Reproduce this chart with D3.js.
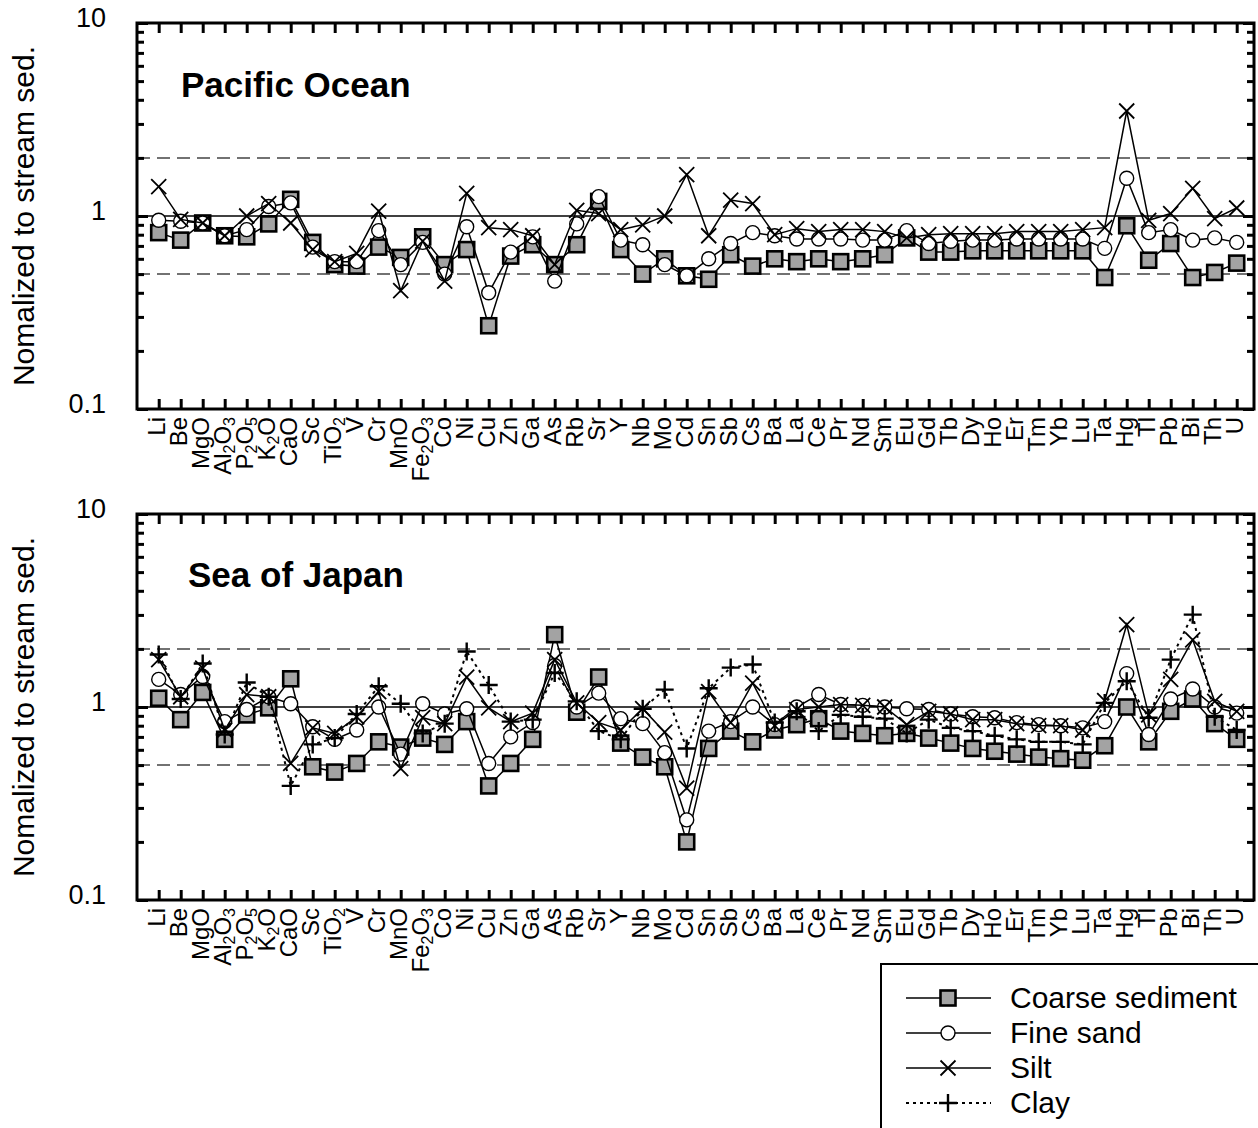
<!DOCTYPE html>
<html>
<head>
<meta charset="utf-8">
<script src="https://cdn.jsdelivr.net/npm/d3@7"></script>
<style>
body { margin: 0; background: #fff; }
svg { display: block; font-family: "Liberation Sans", Arial, sans-serif; }
</style>
</head>
<body>
<svg></svg>
<script>
var width = 1258;
var height = 1128;

var elements = ['Li', 'Be', 'MgO', 'Al2O3', 'P2O5', 'K2O', 'CaO', 'Sc', 'TiO2', 'V', 'Cr', 'MnO', 'Fe2O3', 'Co', 'Ni', 'Cu', 'Zn', 'Ga', 'As', 'Rb', 'Sr', 'Y', 'Nb', 'Mo', 'Cd', 'Sn', 'Sb', 'Cs', 'Ba', 'La', 'Ce', 'Pr', 'Nd', 'Sm', 'Eu', 'Gd', 'Tb', 'Dy', 'Ho', 'Er', 'Tm', 'Yb', 'Lu', 'Ta', 'Hg', 'Tl', 'Pb', 'Bi', 'Th', 'U'];

var yTicks = [0.1, 1, 10];
var yTickLabels = ['0.1', '1', '10'];
var yMinorTicks = [0.2, 0.3, 0.4, 0.5, 0.6, 0.7, 0.8, 0.9, 2, 3, 4, 5, 6, 7, 8, 9];
var refLines = [0.5, 1, 2];

// Pacific Ocean
var coarsePO = [0.82, 0.75, 0.92, 0.79, 0.78, 0.91, 1.22, 0.73, 0.56, 0.55, 0.69, 0.61, 0.78, 0.56, 0.67, 0.27, 0.62, 0.71, 0.56, 0.71, 1.19, 0.67, 0.50, 0.60, 0.49, 0.47, 0.63, 0.55, 0.60, 0.58, 0.60, 0.58, 0.60, 0.63, 0.77, 0.65, 0.65, 0.66, 0.66, 0.66, 0.66, 0.66, 0.66, 0.48, 0.89, 0.59, 0.72, 0.48, 0.51, 0.57];
var finePO = [0.95, 0.94, 0.92, 0.79, 0.85, 1.12, 1.17, 0.69, 0.58, 0.58, 0.84, 0.56, 0.73, 0.50, 0.88, 0.40, 0.65, 0.78, 0.46, 0.91, 1.26, 0.75, 0.71, 0.56, 0.49, 0.60, 0.72, 0.82, 0.79, 0.76, 0.76, 0.76, 0.75, 0.75, 0.84, 0.72, 0.74, 0.75, 0.75, 0.76, 0.76, 0.76, 0.76, 0.68, 1.57, 0.82, 0.85, 0.75, 0.77, 0.73];
var siltPO = [1.42, 0.96, 0.92, 0.79, 1.0, 1.16, 0.92, 0.67, 0.58, 0.64, 1.06, 0.41, 0.74, 0.46, 1.31, 0.87, 0.85, 0.79, 0.56, 1.07, 1.03, 0.85, 0.90, 1.0, 1.64, 0.79, 1.21, 1.16, 0.80, 0.86, 0.83, 0.85, 0.85, 0.83, 0.77, 0.80, 0.81, 0.81, 0.81, 0.83, 0.83, 0.83, 0.85, 0.87, 3.50, 0.95, 1.03, 1.39, 0.97, 1.10];

// Sea of Japan
var coarseSJ = [1.11, 0.86, 1.19, 0.68, 0.91, 0.99, 1.40, 0.49, 0.46, 0.51, 0.66, 0.62, 0.69, 0.64, 0.84, 0.39, 0.51, 0.68, 2.37, 0.94, 1.43, 0.65, 0.55, 0.49, 0.20, 0.61, 0.75, 0.66, 0.76, 0.81, 0.87, 0.75, 0.73, 0.71, 0.73, 0.69, 0.65, 0.61, 0.59, 0.57, 0.55, 0.54, 0.53, 0.63, 1.0, 0.66, 0.95, 1.10, 0.82, 0.68];
var fineSJ = [1.39, 1.16, 1.44, 0.84, 0.97, 1.13, 1.04, 0.79, 0.68, 0.76, 1.0, 0.57, 1.04, 0.92, 0.98, 0.51, 0.70, 0.83, 1.64, 1.0, 1.18, 0.87, 0.82, 0.58, 0.26, 0.75, 0.84, 1.0, 0.81, 1.0, 1.16, 1.03, 1.02, 1.0, 0.98, 0.97, 0.92, 0.89, 0.88, 0.83, 0.81, 0.80, 0.78, 0.84, 1.49, 0.72, 1.10, 1.24, 1.0, 0.93];
var siltSJ = [1.76, 1.13, 1.59, 0.76, 1.16, 1.13, 0.51, 0.78, 0.73, 0.89, 1.20, 0.48, 0.88, 0.82, 1.43, 0.99, 0.84, 0.93, 1.76, 1.05, 0.83, 0.76, 0.98, 0.74, 0.38, 1.20, 0.83, 1.33, 0.80, 0.97, 1.0, 1.03, 1.02, 1.0, 0.81, 0.95, 0.92, 0.86, 0.86, 0.82, 0.80, 0.80, 0.76, 1.08, 2.67, 0.91, 1.39, 2.23, 1.07, 0.95];
var claySJ = [1.87, 1.10, 1.68, 0.72, 1.34, 1.13, 0.39, 0.64, 0.69, 0.92, 1.28, 1.04, 0.73, 0.82, 1.94, 1.30, 0.84, 0.86, 1.50, 1.07, 0.75, 0.68, 0.98, 1.23, 0.61, 1.25, 1.60, 1.66, 0.83, 0.95, 0.75, 0.91, 0.89, 0.87, 0.73, 0.86, 0.78, 0.75, 0.71, 0.68, 0.66, 0.66, 0.64, 1.05, 1.36, 0.88, 1.76, 3.01, 0.89, 0.76];

var seriesNames = ['Coarse sediment', 'Fine sand', 'Silt', 'Clay'];
var seriesKinds = ['square', 'circle', 'times', 'plus'];

var panels = [
	{ title: 'Pacific Ocean', top: 23, bottom: 409, titleX: 181, titleY: 97, series: [coarsePO, finePO, siltPO] },
	{ title: 'Sea of Japan', top: 514, bottom: 900, titleX: 188, titleY: 587, series: [coarseSJ, fineSJ, siltSJ, claySJ] }
];

var plotLeft = 137;
var plotRight = 1254;

var svg = d3.select('svg')
	.attr('width', width)
	.attr('height', height);

svg.append('rect')
	.attr('width', width)
	.attr('height', height)
	.attr('fill', '#fff');

var x = d3.scalePoint()
	.domain(elements)
	.range([158.7, 1236.7]);

function drawMarker(sel, kind) {
	if (kind === 'square') {
		sel.append('rect')
			.attr('x', -7.5).attr('y', -7.5)
			.attr('width', 15).attr('height', 15)
			.attr('fill', '#a3a3a3')
			.attr('stroke', '#000')
			.attr('stroke-width', 2.6);
	} else if (kind === 'circle') {
		sel.append('circle')
			.attr('r', 7)
			.attr('fill', '#fff')
			.attr('stroke', '#000')
			.attr('stroke-width', 1.4);
	} else if (kind === 'times') {
		sel.append('path')
			.attr('d', 'M-7.5,-7.5L7.5,7.5M-7.5,7.5L7.5,-7.5')
			.attr('stroke', '#000')
			.attr('stroke-width', 1.8)
			.attr('fill', 'none');
	} else {
		sel.append('path')
			.attr('d', 'M-9,0L9,0M0,-9L0,9')
			.attr('stroke', '#000')
			.attr('stroke-width', 2.4)
			.attr('fill', 'none');
	}
}

panels.forEach(function(p) {
	var y = d3.scaleLog()
		.domain([0.1, 10])
		.range([p.bottom, p.top]);

	var g = svg.append('g');

	// reference lines at 0.5, 1, 2
	g.selectAll('.ref')
		.data(refLines)
		.enter().append('line')
		.attr('x1', plotLeft).attr('x2', plotRight)
		.attr('y1', function(d) { return y(d); })
		.attr('y2', function(d) { return y(d); })
		.attr('stroke', function(d) { return d === 1 ? '#000' : '#444'; })
		.attr('stroke-width', 1.5)
		.attr('stroke-dasharray', function(d) { return d === 1 ? null : '13,7'; });

	// y ticks, both sides pointing in
	var axes = [
		d3.axisRight(y).tickValues(yMinorTicks).tickSize(7),
		d3.axisRight(y).tickValues(yTicks).tickSize(11),
		d3.axisLeft(y).tickValues(yMinorTicks).tickSize(7),
		d3.axisLeft(y).tickValues(yTicks).tickSize(11)
	];
	axes.forEach(function(a, i) {
		g.append('g')
			.attr('transform', `translate(${i < 2 ? plotLeft : plotRight},0)`)
			.call(a.tickFormat(''))
			.call(function(s) { s.select('.domain').remove(); })
			.selectAll('line').attr('stroke-width', 3);
	});

	// x ticks top and bottom
	g.append('g')
		.attr('transform', `translate(0,${p.top})`)
		.call(d3.axisBottom(x).tickSize(10).tickFormat(''))
		.call(function(s) { s.select('.domain').remove(); })
		.selectAll('line').attr('stroke-width', 3);
	g.append('g')
		.attr('transform', `translate(0,${p.bottom})`)
		.call(d3.axisTop(x).tickSize(10).tickFormat(''))
		.call(function(s) { s.select('.domain').remove(); })
		.selectAll('line').attr('stroke-width', 3);

	// y tick labels
	var yl = g.append('g')
		.attr('transform', `translate(${plotLeft},0)`)
		.call(d3.axisLeft(y).tickValues(yTicks).tickSize(0).tickPadding(31)
			.tickFormat(function(d, i) { return yTickLabels[i]; }));
	yl.select('.domain').remove();
	yl.attr('font-family', null).attr('font-size', null);
	yl.selectAll('text')
		.attr('font-size', 27)
		.attr('dy', '0.14em')
		.attr('fill', '#000');

	// frame
	g.append('rect')
		.attr('x', plotLeft).attr('y', p.top)
		.attr('width', plotRight - plotLeft)
		.attr('height', p.bottom - p.top)
		.attr('fill', 'none')
		.attr('stroke', '#000')
		.attr('stroke-width', 3);

	// category labels, digits as subscripts
	var labels = g.selectAll('.cat')
		.data(elements)
		.enter().append('text')
		.attr('class', 'cat')
		.attr('transform', function(d) { return `translate(${x(d) + 6},${p.bottom + 8}) rotate(-90)`; })
		.attr('text-anchor', 'end')
		.attr('font-size', 24);
	labels.each(function(d) {
		var t = d3.select(this);
		d.split(/(\d)/).filter(function(s) { return s !== ''; }).forEach(function(part) {
			if (/\d/.test(part)) {
				t.append('tspan').attr('font-size', 16).attr('baseline-shift', '-4').text(part);
			} else {
				t.append('tspan').text(part);
			}
		});
	});

	// axis title
	g.append('text')
		.attr('transform', `translate(34,${(p.top + p.bottom) / 2}) rotate(-90)`)
		.attr('text-anchor', 'middle')
		.attr('font-size', 30)
		.text('Nomalized to stream sed.');

	// panel title
	g.append('text')
		.attr('x', p.titleX)
		.attr('y', p.titleY)
		.attr('font-size', 35)
		.attr('font-weight', 'bold')
		.text(p.title);

	var lineGen = d3.line()
		.x(function(d, i) { return x(elements[i]); })
		.y(function(d) { return y(d); });

	p.series.forEach(function(values, si) {
		var kind = seriesKinds[si];
		g.append('path')
			.attr('d', lineGen(values))
			.attr('fill', 'none')
			.attr('stroke', '#000')
			.attr('stroke-width', kind === 'plus' ? 2 : 1.5)
			.attr('stroke-dasharray', kind === 'plus' ? '3,4' : null);
		g.selectAll('.m' + si)
			.data(values)
			.enter().append('g')
			.attr('transform', function(d, i) { return `translate(${x(elements[i])},${y(d)})`; })
			.each(function() { drawMarker(d3.select(this), kind); });
	});
});

// legend
var legend = svg.append('g');
legend.append('rect')
	.attr('x', 881).attr('y', 964)
	.attr('width', 420).attr('height', 220)
	.attr('fill', '#fff')
	.attr('stroke', '#000')
	.attr('stroke-width', 2);

seriesNames.forEach(function(name, i) {
	var ly = 998 + i * 35;
	var kind = seriesKinds[i];
	legend.append('line')
		.attr('x1', 906).attr('x2', 991)
		.attr('y1', ly).attr('y2', ly)
		.attr('stroke', '#000')
		.attr('stroke-width', kind === 'plus' ? 2 : 1.5)
		.attr('stroke-dasharray', kind === 'plus' ? '3,4' : null);
	drawMarker(legend.append('g').attr('transform', `translate(948,${ly})`), kind);
	legend.append('text')
		.attr('x', 1010)
		.attr('y', ly + 10)
		.attr('font-size', 30)
		.text(name);
});
</script>
</body>
</html>
